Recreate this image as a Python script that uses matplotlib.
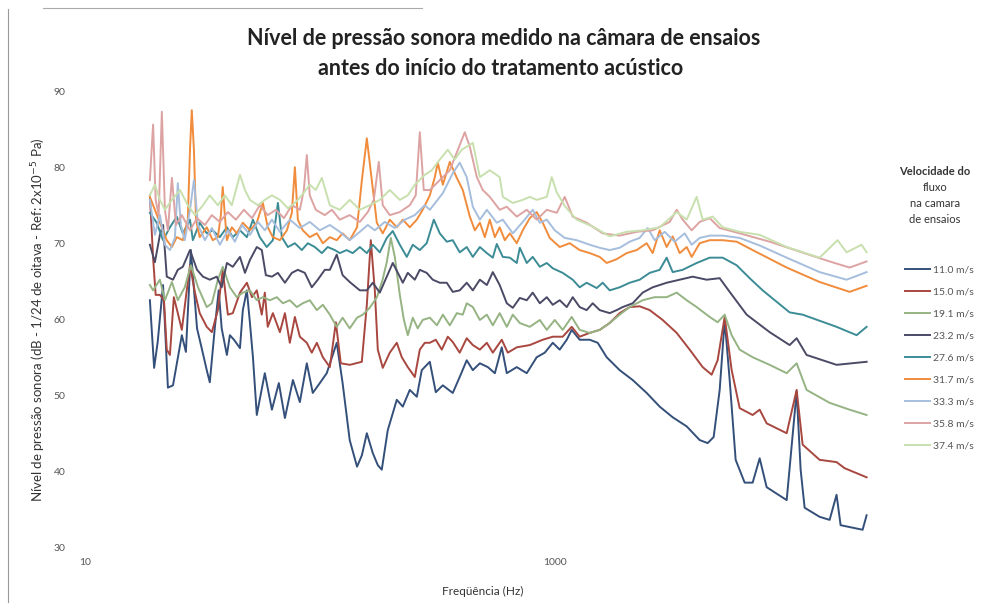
import matplotlib
matplotlib.use("Agg")
import matplotlib.pyplot as plt
from matplotlib.lines import Line2D

plt.rcParams['font.family'] = ['Lato', 'DejaVu Sans']

# (frequency Hz, level dB) per flow speed
v11_0 = [(18.9, 62.6), (19.7, 53.7), (20.4, 57.1), (21.5, 64.6), (22.55, 51.1), (23.7, 51.4),
         (24.85, 55.0), (25.85, 58.0), (26.9, 55.8), (28.25, 69.2), (30.0, 58.9), (31.4, 56.3),
         (33.0, 53.4), (34.0, 51.8), (35.7, 58.9), (37.1, 63.9), (38.2, 58.9), (40.2, 55.4),
         (41.4, 58.0), (43.1, 57.4), (45.7, 56.3), (47.0, 61.3), (48.9, 63.9), (50.4, 59.6),
         (51.9, 55.1), (53.9, 47.5), (58.3, 53.0), (62.5, 48.2), (66.9, 51.7), (71.0, 47.1),
         (76.8, 52.1), (82.2, 49.2), (88.0, 54.3), (93.3, 50.4), (100, 51.7), (107, 53.0),
         (118, 57.0), (125, 51.7), (134, 44.2), (144, 40.7), (151, 42.2), (158.5, 45.1),
         (168, 42.5), (176.5, 40.9), (183.5, 40.3), (194.6, 45.5), (212.6, 49.5), (225.5, 48.6),
         (241.5, 50.8), (258.7, 49.9), (271.6, 53.4), (293.8, 54.5), (311.6, 50.5), (333.7, 51.4),
         (368, 50.4), (394, 52.5), (422, 54.7), (448, 53.4), (480, 54.3), (519, 53.8),
         (556, 53.0), (595, 56.4), (625, 53.0), (689, 53.8), (760, 53.0), (838, 55.1),
         (907, 55.7), (981, 57.0), (1050, 56.1), (1125, 57.4), (1181, 58.7), (1277, 57.4),
         (1409, 57.4), (1524, 57.0), (1664, 55.1), (1890, 53.4), (2147, 52.1), (2463, 50.4),
         (2798, 48.6), (3178, 47.2), (3646, 46.0), (4141, 44.2), (4478, 43.8), (4749, 44.6),
         (5038, 50.8), (5291, 60.0), (5556, 52.1), (5892, 41.6), (6436, 38.6), (6960, 38.6),
         (7456, 41.8), (7984, 38.0), (9716, 36.3), (10713, 50.6), (11140, 40.3), (11584, 35.3),
         (13418, 34.1), (14800, 33.7), (15843, 37.0), (16484, 33.0), (20450, 32.4), (21270, 34.3)]

v15_0 = [(18.9, 76.4), (19.5, 68.2), (20.0, 63.3), (20.85, 63.3), (21.7, 62.6), (22.3, 56.1),
         (23.0, 55.4), (23.9, 63.0), (24.85, 60.9), (25.85, 58.7), (26.9, 63.0), (28.0, 67.2),
         (29.4, 63.6), (30.8, 60.9), (33.0, 59.1), (34.7, 58.4), (36.8, 61.3), (38.6, 66.6),
         (40.6, 60.7), (42.6, 60.9), (45.7, 63.6), (48.9, 64.9), (51.4, 63.0), (53.9, 63.9),
         (56.6, 60.7), (58.3, 63.6), (60.0, 59.1), (63.1, 60.9), (67.6, 58.4), (71.0, 60.9),
         (74.5, 57.0), (78.3, 60.4), (82.2, 57.8), (88.0, 57.0), (92.4, 55.7), (97.1, 57.0),
         (103, 55.1), (110.3, 53.8), (117, 59.7), (122.8, 54.3), (134.2, 54.1), (150.9, 54.5),
         (158.5, 62.0), (164.8, 70.5), (171.4, 63.9), (176.5, 56.1), (185.3, 53.7), (198.5, 55.7),
         (212.6, 57.0), (223.3, 55.1), (236.8, 53.8), (253.7, 52.5), (266.4, 56.1), (279.8, 57.0),
         (293.8, 57.0), (311.6, 57.4), (330.5, 56.1), (350.5, 57.8), (368, 57.1), (394, 55.7),
         (422, 57.6), (448, 56.7), (480, 56.1), (514, 57.0), (545, 55.7), (595, 57.4),
         (631, 55.7), (689, 56.4), (783, 56.7), (889, 57.4), (981, 57.8), (1081, 57.8),
         (1181, 59.1), (1277, 57.8), (1409, 58.3), (1554, 58.7), (1714, 59.6), (1890, 60.9),
         (2085, 61.7), (2300, 61.8), (2537, 61.3), (2881, 60.0), (3305, 58.3), (3754, 56.1),
         (4264, 53.8), (4657, 52.8), (4937, 54.7), (5291, 60.4), (5666, 53.4), (6128, 48.4),
         (6960, 47.5), (7456, 48.2), (7984, 46.4), (9716, 45.1), (10713, 50.8), (11360, 43.6),
         (13418, 41.6), (15843, 41.3), (17143, 40.5), (21270, 39.3)]

v19_1 = [(18.9, 64.6), (19.5, 63.9), (20.85, 65.3), (21.9, 62.6), (23.45, 65.0), (24.85, 62.6),
         (26.6, 64.3), (28.25, 67.2), (30.3, 64.3), (33.0, 61.7), (34.7, 62.2), (36.8, 65.3),
         (38.6, 67.0), (41.4, 64.3), (44.3, 63.0), (47.0, 63.6), (50.4, 63.9), (53.9, 62.6),
         (57.2, 63.0), (61.3, 62.6), (65.6, 63.0), (69.6, 62.2), (74.5, 62.6), (79.8, 61.7),
         (84.6, 62.2), (90.6, 62.6), (97.1, 61.3), (103, 62.0), (110.3, 60.7), (118, 59.1),
         (125, 60.3), (134, 58.9), (144, 60.3), (152.4, 60.7), (163, 61.6), (175, 63.0),
         (185, 65.3), (192.7, 67.6), (200.5, 70.8), (208.5, 68.3), (219, 63.3), (228, 60.0),
         (236.8, 58.0), (248.7, 60.3), (261, 58.9), (274, 60.0), (294, 60.3), (315, 59.3),
         (334, 60.7), (357.5, 59.3), (383, 60.9), (406, 60.7), (422, 62.2), (448, 61.7),
         (480, 60.0), (514, 60.7), (545, 59.3), (583, 60.9), (625, 59.1), (663, 60.7),
         (710, 59.6), (783, 59.1), (864, 60.0), (925, 58.7), (1000, 60.0), (1081, 58.7),
         (1181, 60.4), (1277, 58.7), (1409, 58.3), (1554, 58.7), (1714, 59.6), (1890, 60.7),
         (2085, 61.7), (2368, 62.6), (2664, 63.0), (2996, 63.0), (3305, 63.6), (3646, 62.6),
         (4020, 61.7), (4567, 60.4), (4937, 59.7), (5291, 60.7), (5666, 58.0), (6128, 56.1),
         (6960, 55.1), (8223, 54.1), (9716, 53.0), (10713, 54.3), (11810, 50.8), (14800, 49.1),
         (18004, 48.2), (21270, 47.5)]

v23_2 = [(18.9, 69.9), (19.85, 67.6), (20.85, 71.2), (21.5, 72.5), (22.3, 65.7), (23.7, 65.3),
         (24.85, 66.6), (26.1, 67.0), (28.0, 69.2), (30.0, 66.6), (31.8, 65.7), (34.0, 65.3),
         (36.4, 65.7), (38.2, 64.3), (40.2, 67.5), (42.6, 67.0), (45.7, 68.3), (48.0, 66.2),
         (50.4, 67.9), (53.9, 69.6), (56.6, 69.2), (58.9, 65.9), (62.5, 65.7), (66.3, 66.2),
         (71.0, 64.9), (76.0, 66.2), (80.6, 66.6), (86.3, 66.2), (92.4, 64.3), (98.0, 65.3),
         (105, 66.6), (110.3, 66.6), (118, 68.6), (125, 65.9), (134, 65.0), (148, 63.9),
         (158.5, 63.9), (168, 64.9), (180, 63.6), (192.7, 65.7), (204.4, 67.5), (219, 65.7),
         (225.5, 64.9), (236.8, 66.2), (253.7, 65.3), (266.4, 66.6), (285, 66.2), (302.5, 65.3),
         (324, 64.9), (347, 64.9), (368, 63.7), (394, 63.9), (422, 64.9), (448, 63.9),
         (480, 65.3), (514, 64.6), (545, 66.3), (583, 64.6), (625, 62.2), (663, 61.6),
         (710, 62.9), (760, 62.6), (806, 63.6), (864, 62.2), (925, 63.0), (981, 62.0),
         (1050, 62.6), (1125, 61.7), (1193, 63.0), (1277, 61.7), (1367, 61.3), (1451, 62.2),
         (1554, 61.3), (1714, 60.9), (1835, 61.3), (1946, 61.7), (2147, 62.2), (2368, 63.6),
         (2612, 64.3), (2996, 64.9), (3404, 65.3), (3866, 65.7), (4434, 65.3), (5038, 65.5),
         (5556, 63.7), (6563, 60.7), (8223, 58.4), (10000, 56.7), (10713, 57.6), (11810, 55.4),
         (15843, 54.1), (21270, 54.5)]

v27_6 = [(18.9, 74.1), (20.2, 72.8), (21.5, 70.5), (23.0, 72.2), (24.6, 73.6), (26.1, 71.4),
         (28.0, 73.2), (28.8, 70.5), (30.8, 72.8), (33.0, 71.4), (35.0, 71.8), (37.5, 70.9),
         (40.2, 72.2), (42.6, 70.9), (45.7, 71.8), (48.9, 70.9), (51.9, 73.2), (55.5, 70.9),
         (59.4, 69.6), (63.1, 70.5), (66.3, 75.4), (68.9, 70.9), (73.1, 69.6), (78.3, 70.1),
         (83.8, 69.2), (88.9, 70.1), (95.2, 69.6), (102, 68.8), (108, 69.6), (115.8, 69.2),
         (121.6, 68.8), (130, 69.2), (138, 68.8), (148, 69.6), (158.5, 68.8), (168, 69.9),
         (180, 68.9), (192.7, 70.8), (204.4, 71.7), (219, 69.9), (234.5, 68.3), (248.7, 69.9),
         (266.4, 69.2), (285, 70.1), (305.6, 73.2), (324, 71.4), (347, 70.3), (368, 70.5),
         (394, 68.9), (422, 69.6), (448, 68.3), (480, 69.6), (514, 68.8), (545, 68.2),
         (566.5, 70.0), (601, 68.3), (644, 68.2), (689, 67.5), (710, 69.5), (760, 67.5),
         (806, 68.3), (864, 67.0), (925, 67.5), (981, 66.8), (1081, 66.2), (1193, 65.3),
         (1277, 64.3), (1367, 64.9), (1509, 64.2), (1600, 64.9), (1714, 63.9), (1890, 64.3),
         (2085, 64.9), (2300, 65.3), (2537, 66.2), (2798, 66.6), (2996, 68.2), (3178, 66.3),
         (3505, 66.6), (4020, 67.5), (4567, 68.2), (5188, 68.2), (5950, 67.2), (6760, 65.5),
         (7677, 63.9), (10000, 61.0), (11360, 60.7), (15843, 59.1), (19284, 58.0), (21270, 59.1)]

v31_7 = [(18.9, 76.2), (19.85, 74.5), (20.85, 72.8), (22.3, 70.5), (23.45, 69.6), (24.6, 70.9),
         (26.1, 70.5), (27.4, 73.2), (28.0, 82.4), (28.5, 87.6), (29.1, 82.4), (29.7, 73.2),
         (30.8, 70.9), (33.0, 72.2), (35.0, 70.5), (36.8, 70.9), (37.9, 73.8), (38.6, 77.5),
         (39.4, 73.8), (40.2, 70.5), (42.2, 72.2), (44.3, 71.4), (47.0, 72.8), (50.4, 71.8),
         (53.9, 72.8), (57.2, 75.4), (60.0, 72.2), (63.1, 70.9), (67.6, 70.5), (72.4, 71.8),
         (76.0, 74.1), (78.3, 80.1), (80.6, 73.2), (84.6, 71.8), (90.6, 70.9), (97.1, 71.4),
         (103, 70.1), (110.3, 70.9), (118, 70.5), (125, 71.4), (134, 70.5), (144, 72.2),
         (151, 78.4), (158.5, 83.9), (166.4, 78.4), (174.8, 72.8), (185.3, 71.4), (198.5, 73.2),
         (212.6, 72.2), (225.5, 73.2), (241.5, 72.2), (258.7, 73.2), (274, 74.5), (294, 76.4),
         (308.6, 78.8), (317.8, 80.7), (334, 77.8), (357.5, 80.8), (383, 78.7), (406, 77.1),
         (435, 73.6), (457, 71.8), (480, 72.8), (504, 70.9), (529, 73.2), (556, 70.9),
         (583, 72.2), (613, 70.5), (644, 71.4), (689, 70.1), (731, 71.8), (783, 73.4),
         (838, 74.2), (889, 72.8), (952, 70.8), (1050, 69.6), (1158, 70.1), (1277, 69.2),
         (1409, 68.8), (1554, 68.3), (1664, 67.5), (1835, 68.0), (2024, 68.8), (2233, 69.2),
         (2463, 70.1), (2612, 68.8), (2798, 71.8), (2996, 69.6), (3178, 71.0), (3404, 68.8),
         (3646, 69.6), (3828, 68.3), (4141, 70.1), (4567, 70.5), (5188, 70.5), (5950, 70.3),
         (6960, 69.2), (9716, 66.9), (13418, 65.0), (18004, 63.7), (21270, 64.5)]

v33_3 = [(18.9, 75.8), (19.85, 71.2), (20.85, 73.8), (21.9, 69.9), (23.0, 69.2), (24.15, 70.8),
         (24.85, 78.0), (25.6, 72.5), (26.6, 70.5), (28.0, 74.5), (29.1, 78.4), (30.3, 72.5),
         (32.4, 70.5), (34.7, 72.1), (37.5, 69.9), (40.6, 71.8), (43.5, 70.3), (46.6, 72.5),
         (50.4, 71.2), (54.5, 72.9), (58.3, 71.8), (62.5, 73.2), (67.6, 71.6), (74.5, 73.2),
         (82.2, 72.1), (90.6, 72.9), (100, 71.8), (110.3, 72.5), (121.6, 71.6), (134, 70.5),
         (148, 71.6), (160, 72.5), (171.4, 71.8), (189, 72.9), (208.5, 72.1), (230, 73.2),
         (253.7, 73.8), (279.8, 75.1), (294, 74.5), (334, 76.7), (368, 79.3), (394, 80.7),
         (422, 78.8), (448, 74.9), (480, 73.2), (514, 74.5), (566.5, 72.8), (601, 73.2),
         (663, 71.4), (731, 72.9), (806, 74.5), (864, 72.8), (925, 73.2), (1000, 71.8),
         (1103, 70.8), (1240, 70.5), (1409, 69.9), (1554, 69.5), (1714, 69.2), (1890, 69.5),
         (2085, 70.3), (2300, 70.8), (2487, 72.1), (2664, 70.5), (2938, 71.6), (3241, 70.3),
         (3575, 71.4), (3828, 69.9), (4141, 70.8), (4567, 71.1), (5188, 71.1), (6128, 70.8),
         (7456, 69.8), (9716, 68.2), (13418, 66.3), (17481, 65.3), (21270, 66.3)]

v35_8 = [(18.9, 78.4), (19.5, 85.7), (20.0, 75.8), (20.6, 73.8), (21.25, 87.4), (21.9, 74.5),
         (22.55, 71.8), (23.45, 78.7), (24.4, 72.5), (25.85, 73.8), (28.0, 71.8), (30.0, 73.4),
         (32.4, 72.5), (34.7, 73.8), (37.5, 72.9), (40.6, 74.2), (43.9, 73.2), (47.5, 74.5),
         (51.4, 73.4), (55.5, 75.1), (60.0, 73.8), (65.0, 74.5), (70.3, 73.4), (76.0, 75.1),
         (82.2, 74.5), (85.5, 77.1), (88.0, 81.7), (90.6, 76.4), (96.1, 74.5), (105, 73.8),
         (112.5, 74.5), (121.6, 73.2), (134, 73.8), (148, 72.9), (160, 74.2), (169.7, 75.8),
         (178.2, 80.8), (185.3, 75.1), (198.5, 73.8), (219, 74.2), (241.5, 75.1), (256, 76.4),
         (266.4, 84.7), (277, 77.1), (294, 77.1), (324, 78.4), (357.5, 79.7), (387, 82.4),
         (414, 84.7), (435, 82.8), (466, 78.8), (494, 77.1), (529, 76.2), (583, 74.5),
         (625, 74.9), (689, 73.6), (760, 74.5), (838, 73.2), (925, 74.5), (1020, 74.1),
         (1103, 76.2), (1193, 73.6), (1367, 72.8), (1600, 71.4), (1890, 71.1), (2233, 71.6),
         (2612, 71.8), (3086, 72.9), (3305, 74.5), (3505, 73.2), (3828, 71.8), (4141, 72.9),
         (4567, 73.4), (5038, 72.1), (6128, 71.4), (8223, 70.3), (11030, 69.0), (14800, 67.7),
         (18004, 66.9), (21270, 67.7)]

v37_4 = [(18.9, 76.4), (19.85, 77.8), (20.85, 75.8), (21.9, 74.5), (23.45, 75.8), (25.4, 77.1),
         (27.4, 75.1), (29.4, 73.8), (31.8, 75.1), (34.0, 76.4), (36.8, 75.1), (39.4, 76.4),
         (42.2, 75.1), (45.7, 79.1), (48.0, 77.1), (50.4, 75.8), (54.5, 75.1), (58.3, 75.8),
         (62.5, 76.4), (67.6, 75.8), (73.1, 74.7), (78.3, 75.4), (83.8, 76.4), (90.6, 77.8),
         (96.1, 77.1), (102, 78.7), (110.3, 75.1), (121.6, 74.5), (134, 75.8), (148, 74.5),
         (163, 75.1), (180, 75.8), (198.5, 77.1), (219, 75.8), (236.8, 76.4), (253.7, 77.8),
         (279.8, 79.1), (299.6, 79.7), (324, 81.1), (350.5, 82.4), (375, 81.1), (402, 82.4),
         (422, 82.8), (448, 83.3), (480, 78.8), (529, 79.7), (583, 78.8), (601, 76.2),
         (663, 75.4), (731, 75.8), (783, 76.2), (838, 75.8), (925, 76.2), (971, 78.8),
         (1020, 76.8), (1103, 75.0), (1240, 73.2), (1451, 72.3), (1714, 71.0), (2024, 71.6),
         (2368, 71.8), (2798, 72.2), (3305, 74.2), (3646, 73.2), (4020, 76.2), (4264, 73.2),
         (4703, 73.6), (5188, 72.2), (6128, 71.6), (7456, 71.2), (9716, 69.6), (13418, 68.2),
         (16000, 70.5), (17481, 68.9), (20250, 69.9), (21270, 68.9)]

series = [v11_0, v15_0, v19_1, v23_2, v27_6, v31_7, v33_3, v35_8, v37_4]
labels = ['11.0 m/s', '15.0 m/s', '19.1 m/s', '23.2 m/s', '27.6 m/s',
          '31.7 m/s', '33.3 m/s', '35.8 m/s', '37.4 m/s']
colors = ['#34507a', '#a8473f', '#95b383', '#4b4a66', '#3c8c96',
          '#f08c3c', '#a6bedd', '#dda3a3', '#c8e0ae']

fig = plt.figure(figsize=(9.81, 6.14), dpi=100)
ax = fig.add_axes([0.0866, 0.1075, 0.810, 0.7427])

handles = []
for pts, lab, c in zip(series, labels, colors):
    f, db = zip(*pts)
    h, = ax.plot(f, db, color=c, lw=1.4, label=lab)
    handles.append(h)

ax.set_xscale('log')
ax.set_xlim(10, 24150)
ax.set_ylim(30, 90)
ax.set_xticks([10, 1000])
ax.set_xticklabels(['10', '1000'])
ax.minorticks_off()
ax.set_yticks(range(30, 91, 10))
ax.tick_params(length=0, labelsize=7.5, labelcolor='#555555')
ax.tick_params(axis='y', pad=14)
ax.tick_params(axis='x', pad=7)
for s in ax.spines.values():
    s.set_visible(False)

ax.set_xlabel('Freqüência (Hz)', fontsize=8.5, color='#333333', labelpad=14)
ax.set_ylabel('Nível de pressão sonora (dB - 1/24 de oitava - Ref: 2x10$^{-5}$ Pa)',
              fontsize=9.5, color='#333333', labelpad=4)

fig.text(0.513, 0.938, 'Nível de pressão sonora medido na câmara de ensaios',
         ha='center', va='center', fontsize=15.5, fontweight='bold', color='#222222')
fig.text(0.510, 0.889, 'antes do início do tratamento acústico',
         ha='center', va='center', fontsize=15.5, fontweight='bold', color='#222222')

# legend title block
fig.text(0.953, 0.720, 'Velocidade do', ha='center', va='center', fontsize=8,
         fontweight='bold', color='#333333')
fig.text(0.953, 0.695, 'fluxo', ha='center', va='center', fontsize=8, color='#333333')
fig.text(0.953, 0.668, 'na camara', ha='center', va='center', fontsize=8, color='#333333')
fig.text(0.953, 0.642, 'de ensaios', ha='center', va='center', fontsize=8, color='#333333')

fig.legend(handles, labels, loc='upper left', bbox_to_anchor=(0.918, 0.575),
           frameon=False, fontsize=7.5, handlelength=2.4, handletextpad=0.3,
           labelspacing=1.22, borderaxespad=0, labelcolor='#555555')

# thin page border on the left and top
fig.add_artist(Line2D([0.008, 0.008], [0.02, 0.985], color='#999999', lw=0.8))
fig.add_artist(Line2D([0.044, 0.43], [0.987, 0.987], color='#aaaaaa', lw=0.8))

fig.savefig('out.png', dpi=100)
